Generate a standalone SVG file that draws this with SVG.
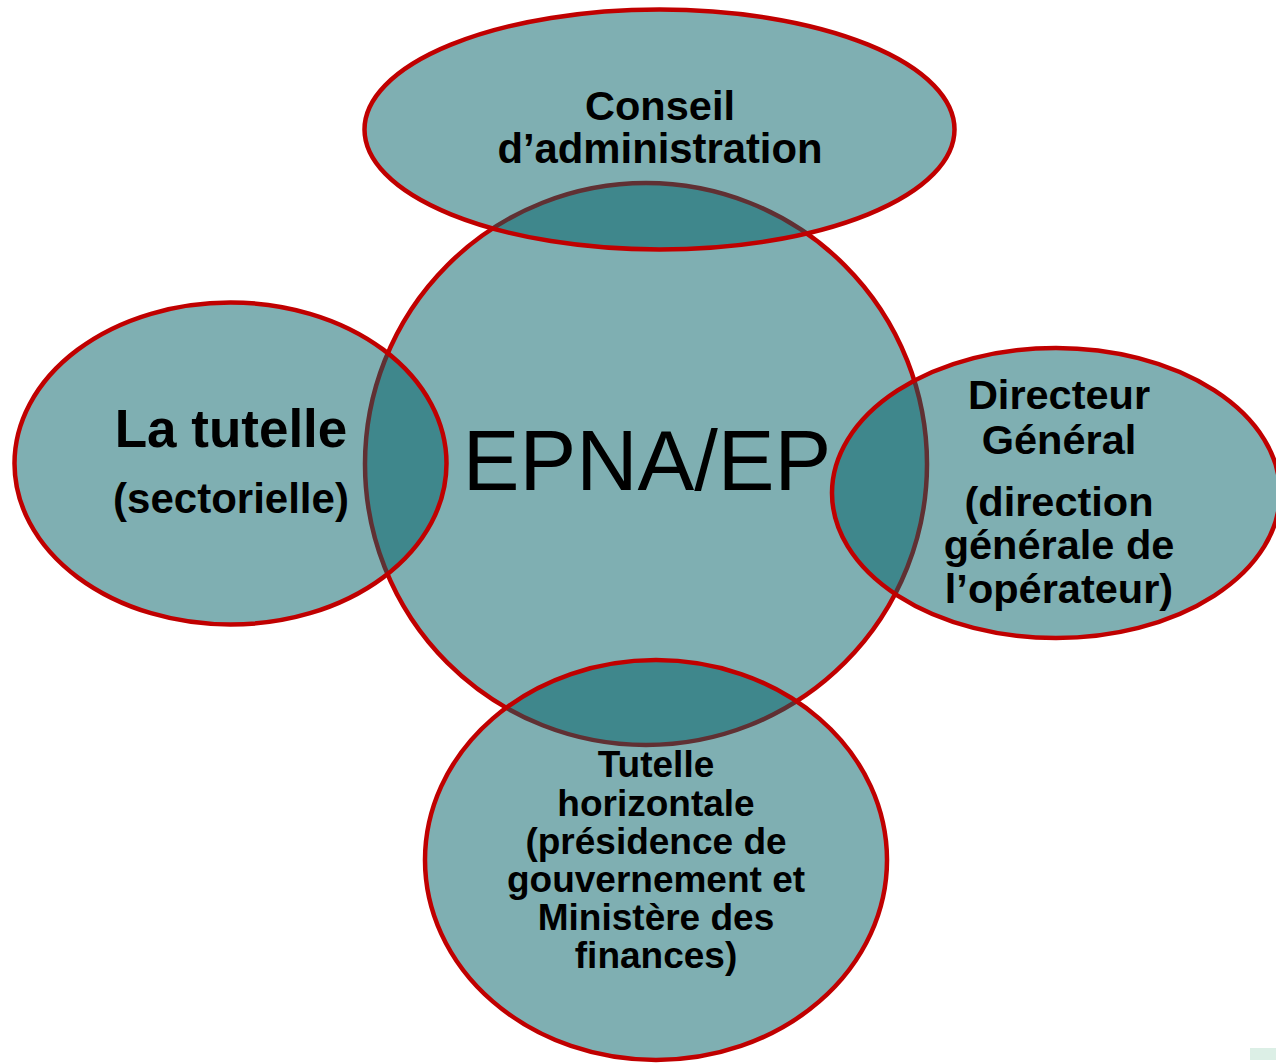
<svg xmlns="http://www.w3.org/2000/svg" width="1276" height="1063" viewBox="0 0 1276 1063">
<style>
.shape{fill:rgb(0,95,102);fill-opacity:0.5;stroke:#c00000;stroke-width:4.5}
.t{font-family:"Liberation Sans",Arial,sans-serif;font-weight:bold;fill:#000;text-anchor:middle}
</style>
<rect width="1276" height="1063" fill="#fff"/>
<g id="epna">
<circle class="shape" cx="646" cy="464" r="281"/>
<text x="647" y="490" style="font-family:'Liberation Sans',Arial,sans-serif;font-size:85px;text-anchor:middle;fill:#000">EPNA/EP</text>
</g>
<g id="conseil">
<ellipse class="shape" cx="659.5" cy="129.5" rx="295" ry="120"/>
<text class="t" x="660" y="120" font-size="41.5">Conseil</text>
<text class="t" x="660" y="163" font-size="41.8">d’administration</text>
</g>
<g id="tutelle">
<ellipse class="shape" cx="230.5" cy="463.5" rx="216" ry="161"/>
<text class="t" x="231" y="447" font-size="53">La tutelle</text>
<text class="t" x="231" y="513" font-size="42">(sectorielle)</text>
</g>
<g id="directeur">
<ellipse class="shape" cx="1056" cy="493" rx="224" ry="145"/>
<text class="t" font-size="41.5" x="1059" y="409">Directeur</text>
<text class="t" font-size="41.5" x="1059" y="454">Général</text>
<text class="t" font-size="41.5" x="1059" y="516">(direction</text>
<text class="t" font-size="41.5" x="1059" y="559">générale de</text>
<text class="t" font-size="41.5" x="1059" y="603">l’opérateur)</text>
</g>
<g id="tutelle-horizontale">
<ellipse class="shape" cx="656" cy="860" rx="231" ry="200"/>
<text class="t" font-size="37" x="656" y="777">Tutelle</text>
<text class="t" font-size="37" x="656" y="816">horizontale</text>
<text class="t" font-size="37" x="656" y="854">(présidence de</text>
<text class="t" font-size="37" x="656" y="892">gouvernement et</text>
<text class="t" font-size="37" x="656" y="930">Ministère des</text>
<text class="t" font-size="37" x="656" y="968">finances)</text>
</g>
<g id="connectors"></g>
<rect x="1250" y="1048" width="26" height="12" fill="#dcefe6"/>
</svg>
